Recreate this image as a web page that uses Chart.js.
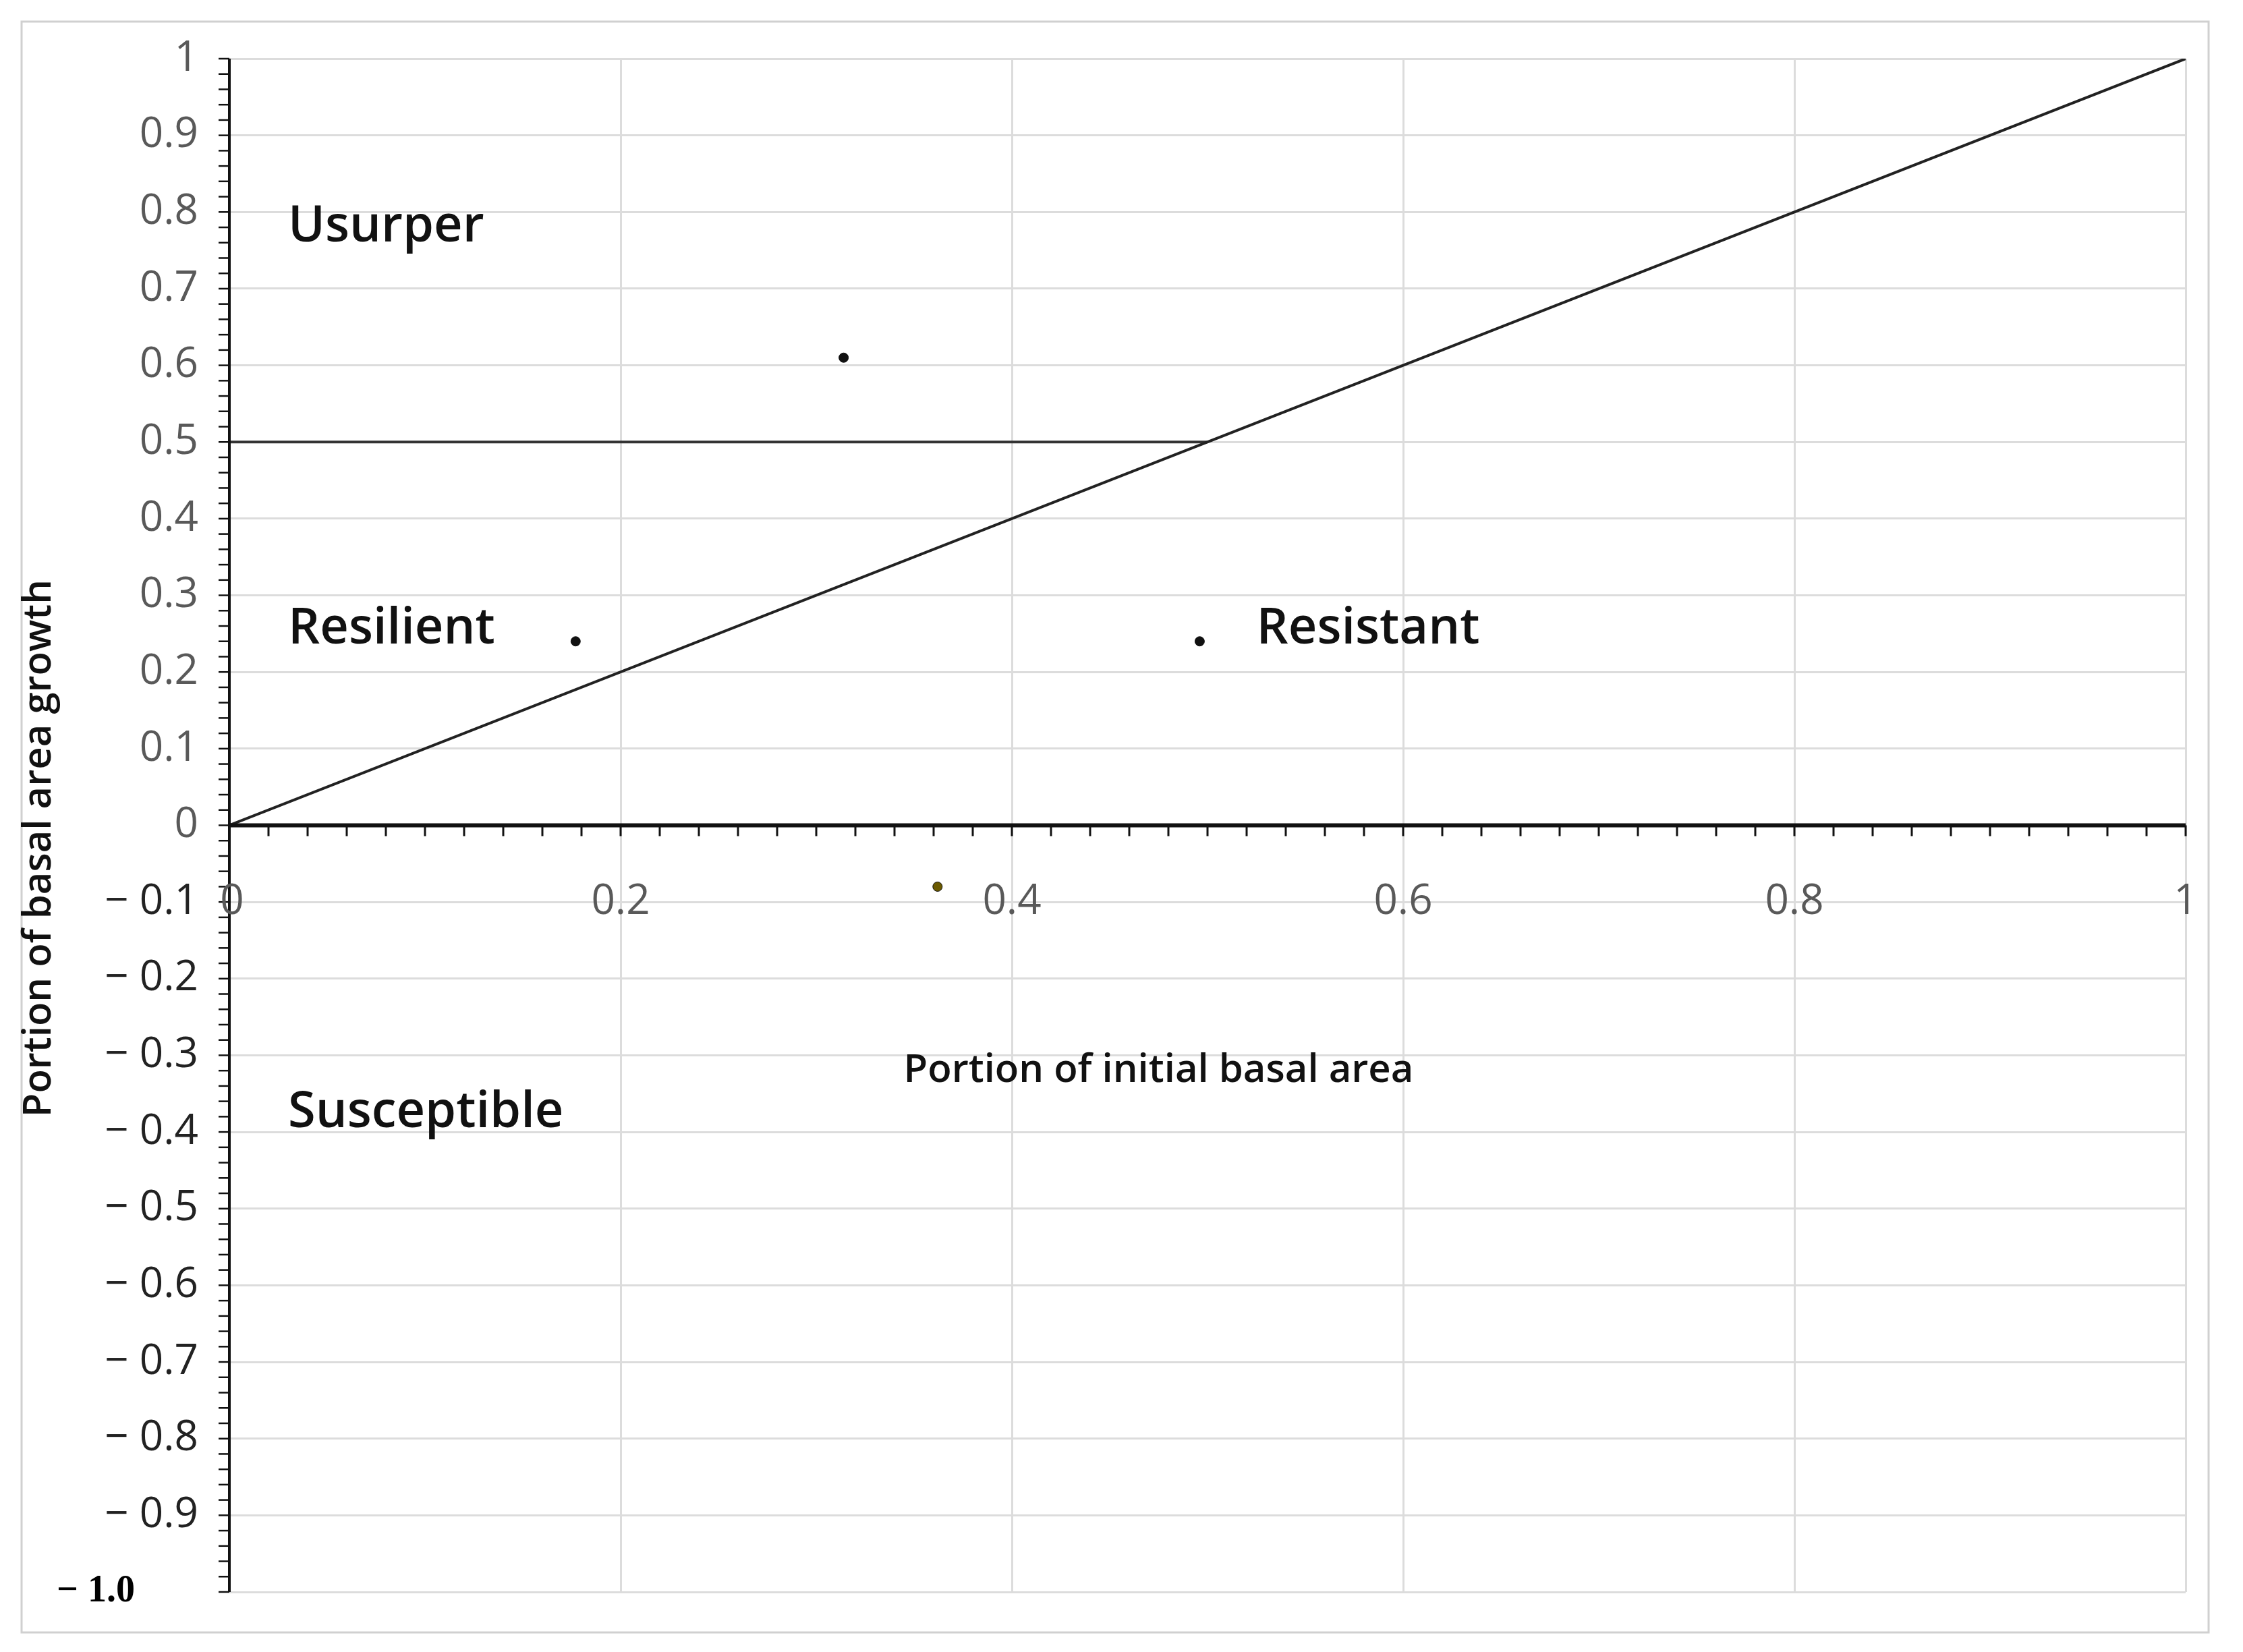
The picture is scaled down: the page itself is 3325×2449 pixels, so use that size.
<!DOCTYPE html>
<html><head><meta charset="utf-8">
<script src="https://cdn.jsdelivr.net/npm/chart.js@4/dist/chart.umd.min.js"></script>
<style>html,body{margin:0;padding:0;background:#fff}canvas{display:block}</style>
</head><body>
<canvas id="myChart" width="3325" height="2449"></canvas>
<script>
// plot data
var pointsX = [0.314, 0.177, 0.496, 0.362];
var pointsY = [0.61, 0.24, 0.24, -0.08];
var pointColors = ['#111', '#111', '#111', '#6b5a00'];
var diagX = [0, 1], diagY = [0, 1];
var horizX = [0, 0.5], horizY = [0.5, 0.5];
var xTicks = [0, 0.2, 0.4, 0.6, 0.8, 1];
var xTickLabels = ['0', '0.2', '0.4', '0.6', '0.8', '1'];
var yTicks = [1, 0.9, 0.8, 0.7, 0.6, 0.5, 0.4, 0.3, 0.2, 0.1, 0, -0.1, -0.2, -0.3, -0.4, -0.5, -0.6, -0.7, -0.8, -0.9, -1];
var yTickLabels = ['1', '0.9', '0.8', '0.7', '0.6', '0.5', '0.4', '0.3', '0.2', '0.1', '0',
  '\u2212 0.1', '\u2212 0.2', '\u2212 0.3', '\u2212 0.4', '\u2212 0.5', '\u2212 0.6', '\u2212 0.7', '\u2212 0.8', '\u2212 0.9', '\u2212 1.0'];
var regionNames = ['Usurper', 'Resilient', 'Resistant', 'Susceptible'];
var regionX = [0.03, 0.03, 0.525, 0.03];
var regionY = [0.78, 0.256, 0.256, -0.375];

function pairs(xs, ys) {
    var out = [];
    for (var i = 0; i < xs.length; i++) out.push({x: xs[i], y: ys[i]});
    return out;
}

var decor = {
    id: 'decor',
    beforeDraw: function(chart) {
        var c = chart.ctx;
        c.save();
        c.fillStyle = '#fff';
        c.fillRect(0, 0, chart.width, chart.height);
        c.strokeStyle = '#d0d0d0';
        c.lineWidth = 3;
        c.strokeRect(32, 32, 3242, 2388);
        c.restore();
    },
    afterDatasetsDraw: function(chart) {
        var c = chart.ctx, xs = chart.scales.x, ys = chart.scales.y;
        c.save();
        // x axis at y = 0 with minor ticks
        var y0 = ys.getPixelForValue(0);
        c.strokeStyle = '#111';
        c.lineWidth = 6;
        c.beginPath(); c.moveTo(xs.left, y0); c.lineTo(xs.right, y0); c.stroke();
        c.lineWidth = 3;
        for (var v = 0; v <= 1.0001; v += 0.02) {
            var px = xs.getPixelForValue(v);
            c.beginPath(); c.moveTo(px, y0); c.lineTo(px, y0 + 16); c.stroke();
        }
        // y axis with minor ticks
        c.lineWidth = 4;
        c.beginPath(); c.moveTo(xs.left, ys.top); c.lineTo(xs.left, ys.bottom); c.stroke();
        c.lineWidth = 2.5;
        for (var w = -1; w <= 1.0001; w += 0.02) {
            var py = ys.getPixelForValue(w);
            c.beginPath(); c.moveTo(xs.left - 16, py); c.lineTo(xs.left, py); c.stroke();
        }
        // tick labels
        c.font = '62px "Open Sans"';
        c.fillStyle = '#595959';
        c.textAlign = 'center'; c.textBaseline = 'middle';
        var yl = ys.getPixelForValue(-0.1);
        for (var i = 0; i < xTicks.length; i++) {
            c.fillText(xTickLabels[i], xs.getPixelForValue(xTicks[i]) + (i === 0 ? 4 : 0), yl);
        }
        for (var j = 0; j < yTicks.length; j++) {
            var py2 = ys.getPixelForValue(yTicks[j]);
            if (yTicks[j] === -1) {
                c.font = 'bold 56px "Liberation Serif"';
                c.fillStyle = '#000';
                c.textAlign = 'left';
                c.fillText(yTickLabels[j], 84, py2);
            } else {
                c.font = '62px "Open Sans"';
                c.fillStyle = yTicks[j] < 0 ? '#222' : '#595959';
                c.textAlign = 'right';
                c.fillText(yTickLabels[j], 294, py2);
            }
        }
        // region labels
        c.font = '600 74px "Open Sans"';
        c.fillStyle = '#111';
        c.textAlign = 'left';
        for (var k = 0; k < regionNames.length; k++) {
            c.fillText(regionNames[k], xs.getPixelForValue(regionX[k]), ys.getPixelForValue(regionY[k]));
        }
        // axis titles
        c.font = '600 58px "Open Sans"';
        c.textAlign = 'center';
        c.fillText('Portion of initial basal area', xs.getPixelForValue(0.475), ys.getPixelForValue(-0.32));
        c.translate(58, ys.getPixelForValue(-0.03));
        c.rotate(-Math.PI / 2);
        c.fillText('Portion of basal area growth', 0, 0);
        c.restore();
    }
};

new Chart('myChart', {
    type: 'scatter',
    data: {
        datasets: [
            {data: pairs(diagX, diagY), showLine: true, borderColor: '#222', borderWidth: 4, pointRadius: 0, fill: false},
            {data: pairs(horizX, horizY), showLine: true, borderColor: '#333', borderWidth: 4, pointRadius: 0, fill: false},
            {data: pairs(pointsX, pointsY), pointRadius: 7, pointBackgroundColor: pointColors, pointBorderColor: '#111', borderWidth: 1}
        ]
    },
    options: {
        responsive: false,
        animation: false,
        layout: {padding: {left: 340, right: 85, top: 87, bottom: 89}},
        plugins: {legend: {display: false}, tooltip: {enabled: false}},
        scales: {
            x: {type: 'linear', min: 0, max: 1,
                ticks: {display: false, stepSize: 0.2},
                grid: {color: '#dcdcdc', lineWidth: 3, drawTicks: false},
                border: {display: false}},
            y: {type: 'linear', min: -1, max: 1,
                ticks: {display: false, stepSize: 0.1},
                grid: {color: '#dcdcdc', lineWidth: 3, drawTicks: false},
                border: {display: false}}
        }
    },
    plugins: [decor]
});
</script>
</body></html>
